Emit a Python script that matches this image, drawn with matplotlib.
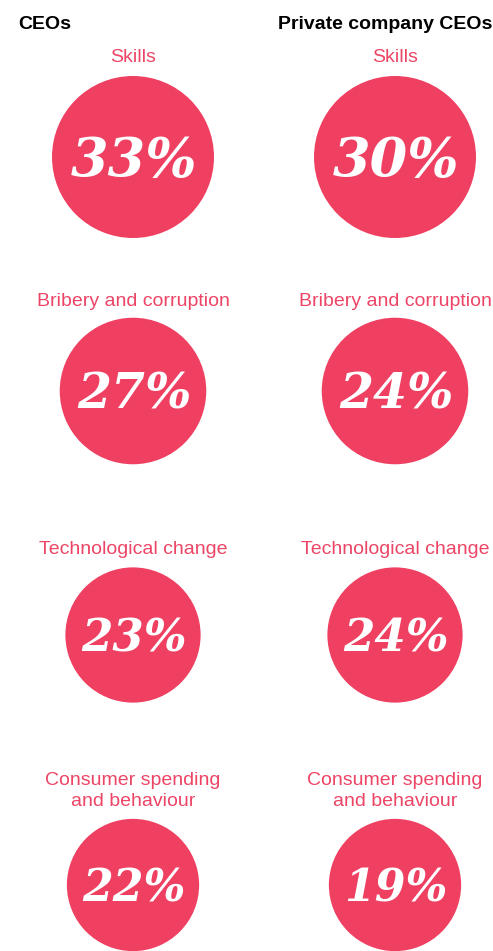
import numpy as np
import matplotlib
matplotlib.use("Agg")
import matplotlib.pyplot as plt
from matplotlib.patches import Circle

# ---- data ----
column_titles = ["CEOs", "Private company CEOs"]
categories = ["Skills", "Bribery and corruption", "Technological change",
              "Consumer spending\nand behaviour"]
ceo_values = [33, 27, 23, 22]
private_values = [30, 24, 24, 19]

# ---- style ----
PINK = "#EF4062"
LABEL_PINK = "#EC4566"
W, H = 493, 951

fig = plt.figure(figsize=(W / 100, H / 100), dpi=100)
ax = fig.add_axes([0, 0, 1, 1])
ax.set_xlim(0, W)
ax.set_ylim(H, 0)
ax.axis("off")

col_x = [133, 395]
label_baseline = [62, 306, 554, 785]
circle_cy = [157, 391, 635, 885]
line_step = 21

# headers
ax.text(18, 29, column_titles[0], ha="left", va="baseline", fontsize=14,
        fontweight="bold", family="Liberation Sans", color="black")
ax.text(492, 29, column_titles[1], ha="right", va="baseline", fontsize=14,
        fontweight="bold", family="Liberation Sans", color="black")

scale = 81 / np.sqrt(max(ceo_values))
for i, cat in enumerate(categories):
    r = scale * np.sqrt(ceo_values[i])
    fs = 0.48 * r
    for j, vals in enumerate([ceo_values, private_values]):
        x = col_x[j]
        for k, line in enumerate(cat.split("\n")):
            ax.text(x, label_baseline[i] + k * line_step, line, ha="center",
                    va="baseline", fontsize=14, family="Liberation Sans",
                    color=LABEL_PINK)
        ax.add_patch(Circle((x, circle_cy[i]), r, facecolor=PINK,
                            edgecolor="none"))
        digit_h = 0.73 * fs * 100 / 72
        ax.text(x + 1, circle_cy[i] + digit_h / 2, f"{vals[i]}%", ha="center",
                va="baseline", fontsize=fs, family="DejaVu Serif",
                fontweight="bold", style="italic", color="white")

fig.savefig("out.png", dpi=100)
